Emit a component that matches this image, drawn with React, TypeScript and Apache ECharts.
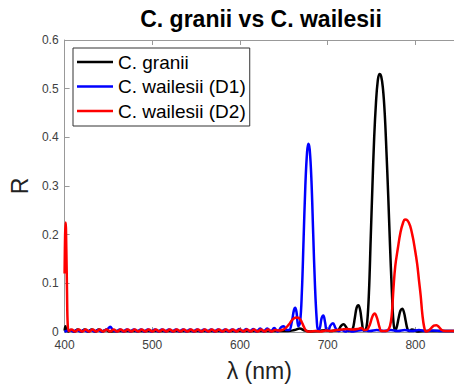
import React, { useEffect, useRef } from "react";
import * as echarts from "echarts";

const titleText = "C. granii vs C. wailesii";
const seriesNames = ["C. granii", "C. wailesii (D1)", "C. wailesii (D2)"];
const xTicks = [400, 500, 600, 700, 800];
const yTicks = [0, 0.1, 0.2, 0.3, 0.4, 0.5, 0.6];

const granii: [number, number][] = [
  [400, 0.003], [401, 0.012], [402, 0.004], [404, 0.001], [407, 0.004], [411, 0.001], [415, 0.005],
  [419, 0.001], [423, 0.005], [427, 0.001], [431, 0.005], [435, 0.001], [439, 0.005], [443, 0.001],
  [447, 0.004], [451, 0.001], [460, 0.002], [480, 0.002], [500, 0.002], [520, 0.002], [540, 0.002],
  [560, 0.002], [580, 0.002], [600, 0.002], [620, 0.002], [640, 0.002], [655, 0.002], [662, 0.004],
  [668, 0.007], [674, 0.003], [680, 0.001], [690, 0.002], [698, 0.004], [703, 0.002], [708, 0.003],
  [712, 0.004], [715, 0.012], [718, 0.016], [721, 0.01], [724, 0.002], [728, 0.004], [731, 0.03],
  [733, 0.05], [735, 0.055], [737, 0.045], [739, 0.02], [741, 0.003], [743, 0.004], [745, 0.02],
  [747, 0.08], [749, 0.19], [751, 0.3], [753, 0.4], [755, 0.47], [757, 0.515], [759, 0.53],
  [761, 0.525], [763, 0.5], [765, 0.45], [767, 0.37], [769, 0.28], [771, 0.18], [773, 0.09],
  [775, 0.02], [777, 0.002], [779, 0.012], [781, 0.03], [783, 0.044], [785, 0.048], [787, 0.04],
  [789, 0.022], [791, 0.006], [793, 0.002], [796, 0.005], [799, 0.004], [802, 0.001], [810, 0.002],
  [820, 0.002], [830, 0.002], [844, 0.002],
];

const wailesiiD1: [number, number][] = [
  [400, 0.0], [402, 0.002], [406, 0.004], [410, 0.001], [414, 0.004], [418, 0.001], [422, 0.004],
  [426, 0.001], [430, 0.004], [434, 0.001], [438, 0.004], [442, 0.001], [446, 0.004], [449, 0.006],
  [452, 0.011], [455, 0.004], [459, 0.001], [463, 0.005], [467, 0.001], [471, 0.005], [475, 0.001],
  [479, 0.005], [483, 0.001], [487, 0.005], [491, 0.001], [495, 0.005], [499, 0.001], [503, 0.005],
  [507, 0.001], [511, 0.005], [515, 0.001], [519, 0.005], [523, 0.001], [527, 0.005], [531, 0.001],
  [535, 0.005], [539, 0.001], [543, 0.005], [547, 0.001], [551, 0.005], [555, 0.001], [559, 0.005],
  [563, 0.001], [567, 0.005], [571, 0.001], [575, 0.005], [579, 0.001], [583, 0.005], [587, 0.001],
  [591, 0.005], [595, 0.001], [599, 0.006], [603, 0.001], [607, 0.006], [611, 0.001], [615, 0.006],
  [619, 0.001], [623, 0.007], [627, 0.001], [631, 0.007], [635, 0.001], [639, 0.008], [643, 0.001],
  [647, 0.01], [650, 0.012], [653, 0.004], [656, 0.004], [659, 0.02], [661.5, 0.045], [663, 0.05],
  [664.5, 0.04], [666.5, 0.012], [668.5, 0.02], [670.5, 0.08], [672.5, 0.19], [674.5, 0.3],
  [676.5, 0.37], [678, 0.387], [679.5, 0.375], [681.5, 0.31], [683.5, 0.2], [685.5, 0.095],
  [687.5, 0.025], [689, 0.004], [691, 0.008], [693, 0.028], [695, 0.034], [697, 0.02], [699, 0.003],
  [701, 0.004], [703, 0.013], [706, 0.018], [709, 0.008], [712, 0.002], [716, 0.004], [720, 0.001],
  [724, 0.003], [728, 0.001], [732, 0.002], [740, 0.004], [748, 0.002], [756, 0.004], [764, 0.002],
  [772, 0.004], [780, 0.002], [788, 0.004], [796, 0.002], [804, 0.004], [812, 0.002], [820, 0.003],
  [830, 0.002], [844, 0.002],
];

const wailesiiD2: [number, number][] = [
  [400, 0.12], [400.6, 0.2], [401.2, 0.225], [402, 0.17], [402.8, 0.08], [403.6, 0.015], [405, 0.002],
  [408, 0.005], [412, 0.001], [416, 0.005], [420, 0.001], [424, 0.005], [428, 0.001], [432, 0.005],
  [436, 0.001], [440, 0.005], [444, 0.001], [448, 0.005], [452, 0.001], [456, 0.005], [460, 0.001],
  [464, 0.005], [468, 0.001], [472, 0.005], [476, 0.001], [480, 0.005], [484, 0.001], [488, 0.005],
  [492, 0.001], [496, 0.005], [500, 0.001], [504, 0.005], [508, 0.001], [512, 0.005], [516, 0.001],
  [520, 0.005], [524, 0.001], [528, 0.005], [532, 0.001], [536, 0.005], [540, 0.001], [544, 0.005],
  [548, 0.001], [552, 0.005], [556, 0.001], [560, 0.005], [564, 0.001], [568, 0.005], [572, 0.001],
  [576, 0.005], [580, 0.001], [584, 0.005], [588, 0.001], [592, 0.005], [596, 0.001], [600, 0.005],
  [604, 0.001], [608, 0.005], [612, 0.001], [616, 0.005], [620, 0.001], [624, 0.005], [628, 0.001],
  [632, 0.005], [636, 0.001], [640, 0.004], [644, 0.003], [648, 0.004], [652, 0.008], [656, 0.016],
  [660, 0.026], [664, 0.03], [667, 0.029], [670, 0.022], [673, 0.01], [676, 0.002], [680, 0.001],
  [686, 0.002], [692, 0.001], [698, 0.003], [704, 0.002], [710, 0.004], [716, 0.005], [722, 0.006],
  [728, 0.005], [734, 0.006], [738, 0.008], [742, 0.004], [745, 0.005], [748, 0.015], [751, 0.032],
  [753.5, 0.038], [756, 0.03], [759, 0.01], [761, 0.002], [764, 0.002], [768, 0.003], [771, 0.012],
  [773, 0.035], [775, 0.09], [777, 0.135], [780, 0.172], [783, 0.205], [786, 0.225], [788, 0.231],
  [791, 0.229], [794, 0.218], [797, 0.195], [799, 0.175], [802, 0.14], [804, 0.107], [806, 0.075],
  [808, 0.035], [810, 0.01], [812, 0.001], [815, 0.003], [818, 0.008], [821, 0.013], [824, 0.014],
  [827, 0.01], [830, 0.004], [834, 0.002], [838, 0.002], [844, 0.002],
];

const colors = ["#000000", "#0000ff", "#ff0000"];
const FONT = "'Liberation Sans', Arial, Helvetica, sans-serif";

export default function App() {
  const ref = useRef<HTMLDivElement>(null);
  useEffect(() => {
    if (!ref.current) return;
    const chart = echarts.init(ref.current, null, { renderer: "svg" });
    const dataSets = [granii, wailesiiD1, wailesiiD2];
    chart.setOption({
      animation: false,
      textStyle: { fontFamily: FONT },
      grid: { left: 63, top: 40, right: 0, bottom: 54 },
      graphic: [
        {
          type: "text",
          x: 261,
          y: 19,
          style: {
            text: titleText,
            font: `bold 23px ${FONT}`,
            fill: "#000",
            textAlign: "center",
            textVerticalAlign: "middle",
          },
        },
      ],
      legend: {
        orient: "vertical",
        left: 73,
        top: 48,
        data: seriesNames,
        icon: "rect",
        itemWidth: 36,
        itemHeight: 2.5,
        itemGap: 4.5,
        padding: [4, 4, 5, 4],
        borderColor: "#333",
        borderWidth: 1,
        backgroundColor: "#fff",
        textStyle: { fontFamily: FONT, fontSize: 19, color: "#000", lineHeight: 20 },
      },
      xAxis: [
        {
          type: "value",
          min: xTicks[0],
          max: 844,
          interval: 100,
          name: "λ (nm)",
          nameLocation: "middle",
          nameGap: 27,
          nameTextStyle: { fontFamily: FONT, fontSize: 23, color: "#222" },
          axisLine: { show: true, lineStyle: { color: "#999", width: 1 } },
          axisTick: { show: true, inside: true, length: 5, lineStyle: { color: "#999" } },
          axisLabel: { color: "#404040", fontSize: 12, margin: 7, showMaxLabel: false, fontFamily: FONT },
          splitLine: { show: false },
        },
        {
          type: "value",
          position: "top",
          min: xTicks[0],
          max: 844,
          interval: 100,
          axisLine: { show: true, lineStyle: { color: "#999", width: 1 } },
          axisTick: { show: true, inside: true, length: 5, lineStyle: { color: "#999" } },
          axisLabel: { show: false },
          splitLine: { show: false },
        },
      ],
      yAxis: {
        type: "value",
        min: yTicks[0],
        max: yTicks[yTicks.length - 1],
        interval: 0.1,
        name: "R",
        nameLocation: "middle",
        nameRotate: 90,
        nameGap: 30,
        nameTextStyle: { fontFamily: FONT, fontSize: 23, color: "#222" },
        axisLine: { show: true, lineStyle: { color: "#999", width: 1 } },
        axisTick: { show: true, inside: true, length: 5, lineStyle: { color: "#999" } },
        axisLabel: {
          color: "#404040",
          fontSize: 12,
          margin: 6,
          fontFamily: FONT,
          formatter: (v: number) => String(Math.round(v * 10) / 10),
        },
        splitLine: { show: false },
      },
      series: seriesNames.map((name, i) => ({
        name,
        type: "line",
        xAxisIndex: 0,
        data: dataSets[i],
        smooth: 0.4,
        showSymbol: false,
        symbol: "none",
        color: colors[i],
        lineStyle: { color: colors[i], width: 2.5 },
        clip: true,
      })),
    });
    return () => chart.dispose();
  }, []);
  return (
    <div
      ref={ref}
      style={{ position: "absolute", left: 0, top: 0, width: 454, height: 387, background: "#fff" }}
    />
  );
}
